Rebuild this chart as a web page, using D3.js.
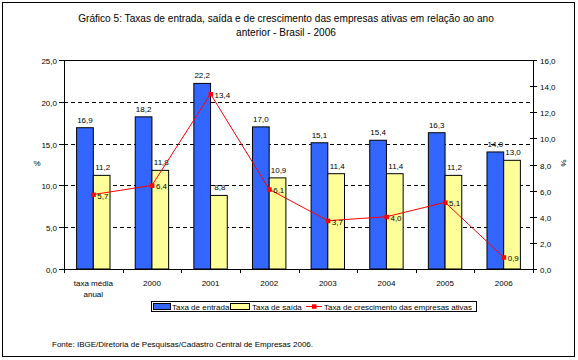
<!DOCTYPE html>
<html><head><meta charset="utf-8">
<script src="https://cdn.jsdelivr.net/npm/d3@7"></script>
<style>body{margin:0;background:#fff}svg{display:block;font-family:"Liberation Sans",Arial,sans-serif}</style>
</head><body>
<svg id="c" width="578" height="360"></svg>
<script>
const categories = [["taxa média","anual"],["2000"],["2001"],["2002"],["2003"],["2004"],["2005"],["2006"]];
const entrada = [16.9, 18.2, 22.2, 17.0, 15.1, 15.4, 16.3, 14.0];
const saida = [11.2, 11.8, 8.8, 10.9, 11.4, 11.4, 11.2, 13.0];
const crescimento = [5.7, 6.4, 13.4, 6.1, 3.7, 4.0, 5.1, 0.9];
const leftTicks = [0,5,10,15,20,25];
const rightTicks = [0,2,4,6,8,10,12,14,16];
const seriesNames = ["Taxa de entrada","Taxa de saída","Taxa de crescimento das empresas ativas"];

const fmt = v => v.toFixed(1).replace(".", ",");
const svg = d3.select("#c");
const L = 64, R = 533, T = 60, B = 269;
const x = d3.scaleBand().domain(d3.range(categories.length)).range([L, R]);
const y = d3.scaleLinear().domain([0,25]).range([B, T]);
const y2 = d3.scaleLinear().domain([0,16]).range([B, T]);
const bw = 16.7;

// outer border
svg.append("rect").attr("x",2.5).attr("y",2.5).attr("width",572).attr("height",354).attr("fill","none").attr("stroke","#000");

// title
const title = svg.append("text").attr("text-anchor","middle").attr("font-size",10.1).attr("fill","#000");
title.append("tspan").attr("x",286).attr("y",22).text("Gráfico 5:  Taxas de entrada, saída e de crescimento das empresas ativas em relação ao ano");
title.append("tspan").attr("x",286).attr("y",36).text("anterior - Brasil - 2006");

// gridlines
svg.append("g").selectAll("line").data(leftTicks.filter(d=>d>0 && d<25)).join("line")
  .attr("x1",L).attr("x2",R).attr("y1",d=>Math.round(y(d))+0.5).attr("y2",d=>Math.round(y(d))+0.5)
  .attr("stroke","#000").attr("stroke-dasharray","4,3");
svg.append("line").attr("x1",L).attr("x2",R).attr("y1",T+0.5).attr("y2",T+0.5).attr("stroke","#000");

// bars
const g = svg.append("g");
g.selectAll("rect.e").data(entrada).join("rect")
  .attr("x",(d,i)=>x(i)+x.bandwidth()/2-bw).attr("y",d=>y(d)).attr("width",bw).attr("height",d=>B-y(d))
  .attr("fill","#3366FF").attr("stroke","#000").attr("stroke-width",1);
g.selectAll("rect.s").data(saida).join("rect")
  .attr("x",(d,i)=>x(i)+x.bandwidth()/2).attr("y",d=>y(d)).attr("width",bw).attr("height",d=>B-y(d))
  .attr("fill","#FFFF99").attr("stroke","#000").attr("stroke-width",1);

// axes
const ax = svg.append("g").attr("font-size",8).attr("fill","#000");
ax.append("line").attr("x1",L+0.5).attr("x2",L+0.5).attr("y1",T).attr("y2",B+1).attr("stroke","#000");
ax.append("line").attr("x1",R+0.5).attr("x2",R+0.5).attr("y1",T).attr("y2",B+1).attr("stroke","#000");
ax.append("line").attr("x1",L).attr("x2",R+1).attr("y1",B+0.5).attr("y2",B+0.5).attr("stroke","#000");
leftTicks.forEach(t=>{
  const yy = Math.round(y(t))+0.5;
  ax.append("line").attr("x1",L-5).attr("x2",L).attr("y1",yy).attr("y2",yy).attr("stroke","#000");
  ax.append("text").attr("x",L-7).attr("y",yy+3).attr("text-anchor","end").text(fmt(t));
});
rightTicks.forEach(t=>{
  const yy = Math.round(y2(t))+0.5;
  ax.append("line").attr("x1",R-3).attr("x2",R+4).attr("y1",yy).attr("y2",yy).attr("stroke","#000");
  ax.append("text").attr("x",R+7).attr("y",yy+3).attr("text-anchor","start").text(fmt(t));
});
d3.range(categories.length+1).forEach(i=>{
  const xx = Math.round(L + i*x.bandwidth())+0.5;
  ax.append("line").attr("x1",xx).attr("x2",xx).attr("y1",B).attr("y2",B+4).attr("stroke","#000");
});
categories.forEach((c,i)=>{
  const t = ax.append("text").attr("text-anchor","middle");
  c.forEach((s,j)=>t.append("tspan").attr("x",x(i)+x.bandwidth()/2).attr("y",286+j*11).text(s));
});
ax.append("text").attr("x",37).attr("y",166).attr("text-anchor","middle").text("%");
ax.append("text").attr("transform","translate(561,163) rotate(90)").attr("text-anchor","middle").text("%");

// bar labels
const lab = svg.append("g").attr("font-size",8).attr("fill","#000").attr("text-anchor","middle");
entrada.forEach((d,i)=>lab.append("text").attr("x",x(i)+x.bandwidth()/2-bw/2).attr("y",y(d)-5).text(fmt(d)));
saida.forEach((d,i)=>lab.append("text").attr("x",x(i)+x.bandwidth()/2+bw/2+1).attr("y",y(d)-5).text(fmt(d)));

// line
const line = d3.line().x((d,i)=>x(i)+x.bandwidth()/2).y(d=>y2(d));
svg.append("path").datum(crescimento).attr("d",line).attr("fill","none").attr("stroke","#FF0000").attr("stroke-width",1);
svg.append("g").selectAll("rect").data(crescimento).join("rect")
  .attr("x",(d,i)=>x(i)+x.bandwidth()/2-2).attr("y",d=>y2(d)-2).attr("width",4.5).attr("height",4.5).attr("fill","#FF0000");
const ll = svg.append("g").attr("font-size",8).attr("fill","#000");
crescimento.forEach((d,i)=>ll.append("text").attr("x",x(i)+x.bandwidth()/2+4).attr("y",y2(d)+4).text(fmt(d)));

// legend
const lg = svg.append("g").attr("font-size",8).attr("fill","#000");
lg.append("rect").attr("x",151.5).attr("y",301.5).attr("width",325).attr("height",10).attr("fill","none").attr("stroke","#000");
lg.append("rect").attr("x",153.5).attr("y",303.5).attr("width",17).attr("height",6).attr("fill","#3366FF").attr("stroke","#000");
lg.append("text").attr("x",172).attr("y",309.5).text(seriesNames[0]);
lg.append("rect").attr("x",230.5).attr("y",303.5).attr("width",19).attr("height",6).attr("fill","#FFFF99").attr("stroke","#000");
lg.append("text").attr("x",252).attr("y",309.5).text(seriesNames[1]);
lg.append("line").attr("x1",306).attr("x2",322).attr("y1",306.5).attr("y2",306.5).attr("stroke","#FF0000");
lg.append("rect").attr("x",312).attr("y",304.3).attr("width",4.5).attr("height",4.5).attr("fill","#FF0000");
lg.append("text").attr("x",324).attr("y",309.5).attr("textLength",148).text(seriesNames[2]);

// source
svg.append("text").attr("x",52).attr("y",347).attr("font-size",8).attr("fill","#000").text("Fonte:  IBGE/Diretoria de Pesquisas/Cadastro Central de Empresas 2006.");
</script>
</body></html>
